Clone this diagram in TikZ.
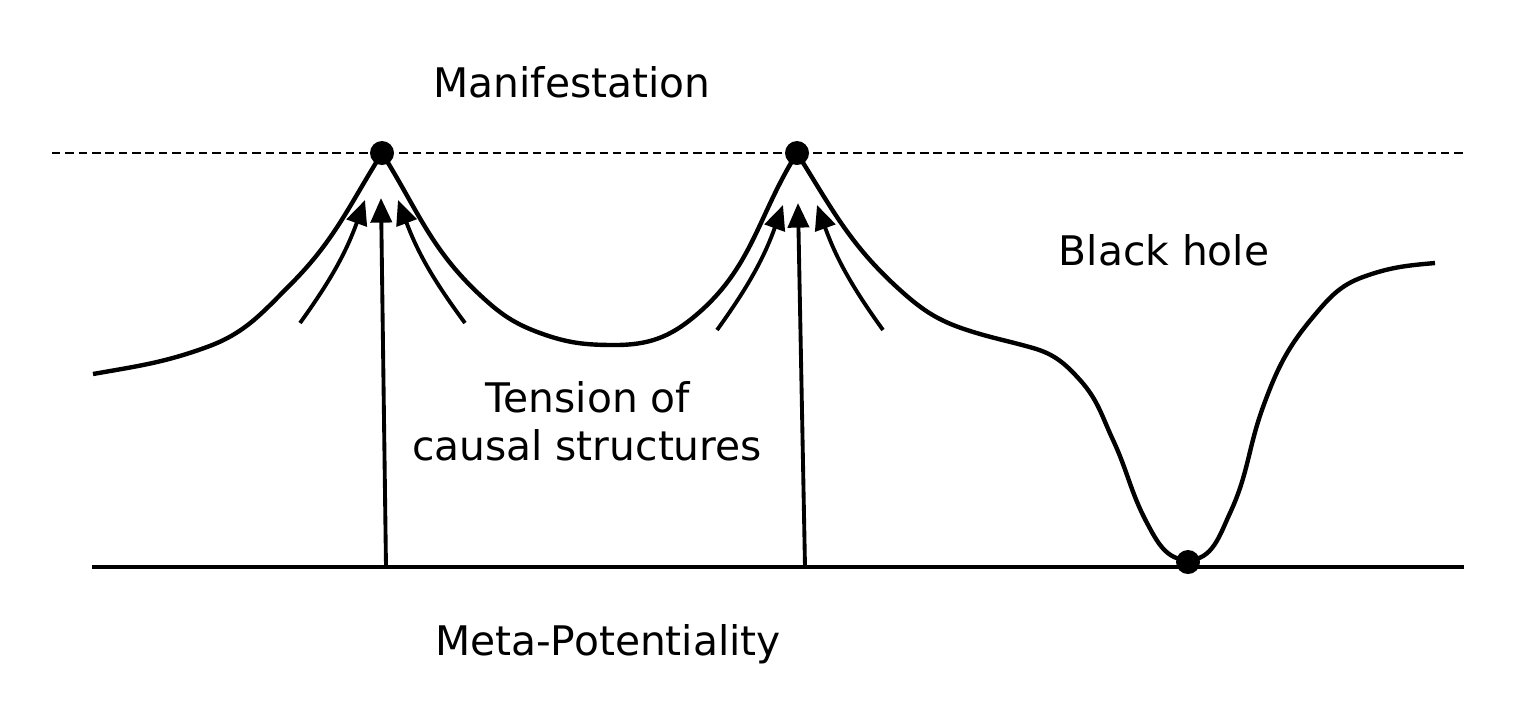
\documentclass[tikz,border=0pt]{standalone}
\usepackage{fontspec}
\setmainfont{DejaVu Sans}
\usetikzlibrary{arrows.meta}

\begin{document}
\begin{tikzpicture}[
	label/.style={anchor=base, inner sep=0pt, font=\fontsize{11.6}{13.9}\selectfont},
	dot/.style={circle, fill=black, inner sep=0pt, minimum size=0.24cm},
	flow/.style={-{Triangle[length=7pt, width=6pt]}, line width=1.1pt},
	landscape/.style={line width=1.25pt, line join=round}
	]
	\useasboundingbox (0,0) rectangle (15.36,7.26);

	% levels
	\coordinate (m0) at (0.52,5.73);
	\coordinate (m1) at (14.66,5.73);
	\coordinate (p0) at (0.92,1.59);
	\coordinate (p1) at (14.64,1.59);
	\draw [dashed, dash pattern=on 2.4pt off 1.4pt, line width=0.75pt] (m0) -- (m1);
	\draw [line width=1.1pt] (p0) -- (p1);

	% the landscape
	\draw [landscape] (0.93,3.52) to[out=10,in=200] (2.07,3.79)
		to[out=20,in=225] (2.90,4.41) to[out=45,in=238] (3.82,5.73)
		to[out=-58,in=137] (4.80,4.31) to[out=-43,in=160] (5.40,3.93)
		to[out=-20,in=180] (6.15,3.81) to[out=0,in=220] (6.95,4.10)
		to[out=40,in=238] (7.97,5.73) to[out=-58,in=138] (9.00,4.36)
		to[out=-42,in=162] (9.67,3.96) to[out=-18,in=164] (10.33,3.78)
		to[out=-16,in=132] (10.80,3.46) to[out=-48,in=115] (11.13,2.86)
		to[out=-65,in=118] (11.47,2.03) to[out=-62,in=180] (11.88,1.66)
		to[out=0,in=245] (12.30,2.13) to[out=65,in=250] (12.63,3.19)
		to[out=70,in=230] (13.13,4.09) to[out=50,in=200] (13.63,4.49)
		to[out=20,in=185] (14.35,4.63);

	\node at (3.82,5.73) [dot] (a) {};
	\node at (7.97,5.73) [dot] (b) {};
	\node at (11.88,1.64) [dot] (h) {};

	% arrows under the first peak
	\coordinate (a1) at (3.00,4.03);
	\coordinate (a2) at (3.65,5.26);
	\coordinate (a3) at (3.86,1.59);
	\coordinate (a4) at (3.81,5.28);
	\coordinate (a5) at (4.65,4.03);
	\coordinate (a6) at (3.98,5.26);
	\draw [flow] (a1) to[bend right=8] (a2);
	\draw [flow] (a3) -- (a4);
	\draw [flow] (a5) to[bend left=8] (a6);

	% arrows under the second peak
	\coordinate (b1) at (7.17,3.96);
	\coordinate (b2) at (7.83,5.21);
	\coordinate (b3) at (8.05,1.59);
	\coordinate (b4) at (7.98,5.23);
	\coordinate (b5) at (8.83,3.96);
	\coordinate (b6) at (8.17,5.21);
	\draw [flow] (b1) to[bend right=8] (b2);
	\draw [flow] (b3) -- (b4);
	\draw [flow] (b5) to[bend left=8] (b6);

	% texts
	\node at (5.72,6.29) [label] (man) {Manifestation};
	\node at (5.88,3.14) [label] (ten) {Tension of};
	\node at (5.87,2.66) [label] (cau) {causal structures};
	\node at (11.64,4.61) [label] (bh) {Black hole};
	\node at (6.08,0.71) [label] (meta) {Meta-Potentiality};
\end{tikzpicture}
\end{document}
